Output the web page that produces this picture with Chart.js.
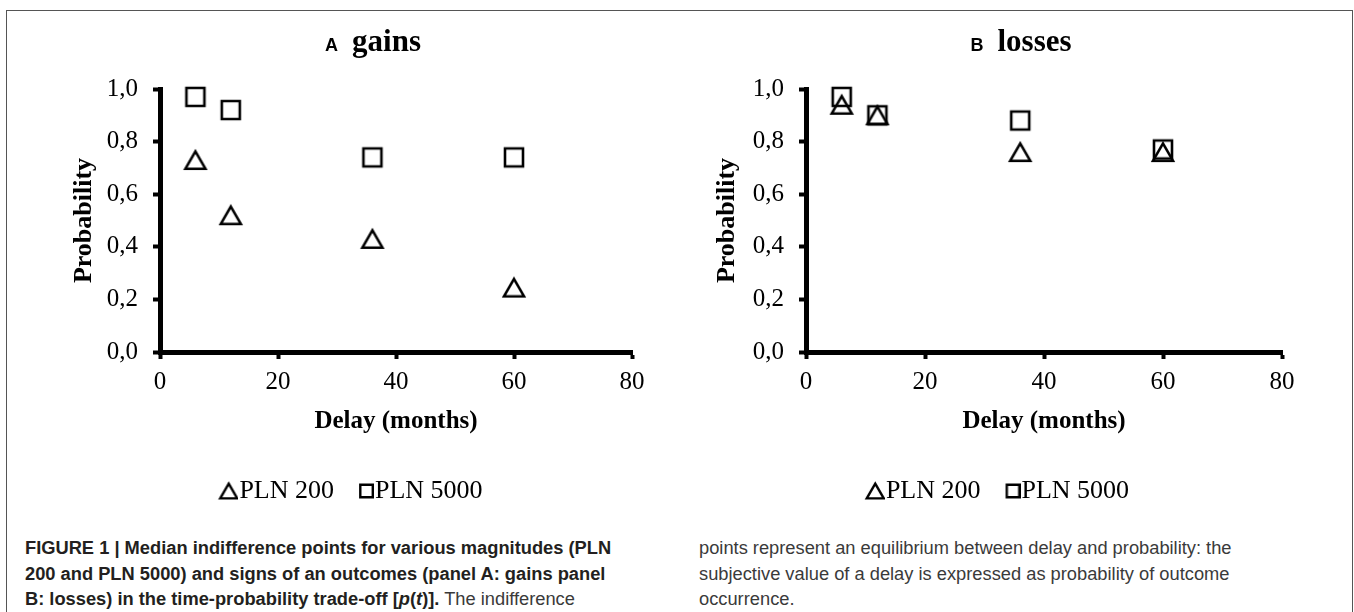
<!DOCTYPE html>
<html>
<head>
<meta charset="utf-8">
<script src="https://cdn.jsdelivr.net/npm/chart.js@4.4.1/dist/chart.umd.min.js"></script>
<style>
  html, body { margin: 0; padding: 0; background: #fff; }
  body { width: 1354px; height: 612px; position: relative; overflow: hidden; }
  .frame { position: absolute; left: 6px; top: 10px; width: 1345px; height: 700px; border: 1.5px solid #555; }
  .panel { position: absolute; top: 0; height: 520px; }
  .ptitle { position: absolute; top: 23px; text-align: center; white-space: nowrap; }
  .ptitle .lt { font-family: "Liberation Sans", Arial, sans-serif; font-weight: bold; font-size: 18px; margin-right: 14px; }
  .ptitle .wd { font-family: "Liberation Serif", "Times New Roman", serif; font-weight: bold; font-size: 31px; }
  .cap { position: absolute; top: 535px; font-family: "Liberation Sans", Arial, sans-serif; font-size: 18.3px; line-height: 25.5px; white-space: nowrap; color: #231f20; }
  .cap b { font-weight: bold; }
  .cap .n, .cap.n { color: #3a3a3a; }
</style>
</head>
<body>
<div class="frame"></div>

<div class="panel" style="left:0; width:680px;"><canvas id="chartA"></canvas></div>
<div class="panel" style="left:680px; width:674px;"><canvas id="chartB"></canvas></div>

<div class="ptitle" style="left:0; width:746px;"><span class="lt">A</span><span class="wd">gains</span></div>
<div class="ptitle" style="left:680px; width:682px;"><span class="lt">B</span><span class="wd">losses</span></div>

<div class="cap" style="left:25px;">
  <b>FIGURE 1 | Median indifference points for various magnitudes (PLN</b><br>
  <b>200 and PLN 5000) and signs of an outcomes (panel A: gains panel</b><br>
  <b>B: losses) in the time-probability trade-off [<i>p</i>(<i>t</i>)].</b> <span class="n">The indifference</span>
</div>
<div class="cap n" style="left:699px;">
  points represent an equilibrium between delay and probability: the<br>
  subjective value of a delay is expressed as probability of outcome<br>
  occurrence.
</div>

<script>
// delays in months
const delays = [6, 12, 36, 60];

// median indifference points (probability)
const gains200 = [0.73, 0.52, 0.43, 0.245];
const gains5000 = [0.97, 0.92, 0.74, 0.74];
const losses200 = [0.94, 0.90, 0.76, 0.76];
const losses5000 = [0.97, 0.90, 0.88, 0.77];

const seriesNames = ['PLN 200', 'PLN 5000'];
const xTicks = [0, 20, 40, 60, 80];
const yTicks = [0, 0.2, 0.4, 0.6, 0.8, 1.0];

const serif = '"Liberation Serif", "Times New Roman", serif';

// open markers drawn as small images so they sit centred on the point
function makeMarker(kind, w, h, size, lw, shiftRight) {
    const c = document.createElement('canvas');
    c.width = w; c.height = h;
    const g = c.getContext('2d');
    g.strokeStyle = '#000';
    g.lineWidth = lw;
    g.lineJoin = 'miter';
    const x0 = shiftRight ? w - size - lw / 2 : (w - size) / 2;
    const sh = kind === 'tri' ? size * 0.87 : size;
    const y0 = (h - sh) / 2;
    g.beginPath();
    if (kind === 'tri') {
        g.moveTo(x0 + size / 2, y0);
        g.lineTo(x0 + size, y0 + sh);
        g.lineTo(x0, y0 + sh);
        g.closePath();
    } else {
        g.rect(x0, y0, size, size);
    }
    g.stroke();
    return c;
}

const triPoint = makeMarker('tri', 26, 24, 20, 2.6, false);
const sqPoint = makeMarker('sq', 24, 24, 18, 2.6, false);
const triLegend = makeMarker('tri', 32, 20, 17, 2.4, true);
const sqLegend = makeMarker('sq', 32, 20, 12.5, 2.4, true);

function toPoints(xs, ys) {
    return xs.map((x, i) => ({ x: x, y: ys[i] }));
}

function makeChart(id, data200, data5000, pad) {
    const ctx = document.getElementById(id).getContext('2d');
    return new Chart(ctx, {
        type: 'scatter',
        data: {
            datasets: [{
                label: seriesNames[0],
                data: toPoints(delays, data200),
                pointStyle: triPoint,
                showLine: false,
                clip: false
            }, {
                label: seriesNames[1],
                data: toPoints(delays, data5000),
                pointStyle: sqPoint,
                showLine: false,
                clip: false
            }]
        },
        options: {
            responsive: false,
            animation: false,
            layout: { padding: { left: pad.left, right: pad.right, top: 89, bottom: 6 } },
            plugins: {
                tooltip: { enabled: false },
                title: { display: false },
                legend: {
                    position: 'bottom',
                    labels: {
                        usePointStyle: true,
                        boxWidth: 8,
                        boxHeight: 14,
                        padding: 20,
                        color: '#000',
                        font: { family: serif, size: 26 },
                        generateLabels: chart => {
                            const items = Chart.defaults.plugins.legend.labels.generateLabels(chart);
                            items[0].pointStyle = triLegend;
                            items[1].pointStyle = sqLegend;
                            return items;
                        }
                    }
                }
            },
            scales: {
                x: {
                    type: 'linear',
                    min: 0,
                    max: 80,
                    afterBuildTicks: s => { s.ticks = xTicks.map(v => ({ value: v })); },
                    afterFit: s => { s.height = 106; },
                    border: { display: true, color: '#000', width: 5 },
                    grid: { drawOnChartArea: false, drawTicks: true, tickLength: 7, tickWidth: 4, tickColor: '#000' },
                    ticks: { color: '#000', padding: 8, maxRotation: 0, font: { family: serif, size: 25 } },
                    title: {
                        display: true,
                        text: 'Delay (months)',
                        color: '#000',
                        padding: { top: 0, bottom: 21 },
                        font: { family: serif, size: 25, weight: 'bold' }
                    }
                },
                y: {
                    min: 0,
                    max: 1,
                    afterBuildTicks: s => { s.ticks = yTicks.map(v => ({ value: v })); },
                    afterFit: s => { s.width = pad.yWidth; },
                    border: { display: true, color: '#000', width: 5 },
                    grid: { drawOnChartArea: false, drawTicks: true, tickLength: 7, tickWidth: 4, tickColor: '#000' },
                    ticks: {
                        color: '#000',
                        padding: 15,
                        font: { family: serif, size: 25 },
                        callback: v => v.toFixed(1).replace('.', ',')
                    },
                    title: {
                        display: true,
                        text: 'Probability',
                        color: '#000',
                        padding: { top: 0, bottom: 0 },
                        font: { family: serif, size: 26, weight: 'bold' }
                    }
                }
            }
        }
    });
}

function sizeCanvas(id, w, h) {
    const c = document.getElementById(id);
    c.width = w; c.height = h;
    c.style.width = w + 'px'; c.style.height = h + 'px';
}

sizeCanvas('chartA', 680, 520);
sizeCanvas('chartB', 674, 520);

makeChart('chartA', gains200, gains5000, { left: 69, right: 48, yWidth: 91 });
makeChart('chartB', losses200, losses5000, { left: 32, right: 72, yWidth: 94 });
</script>
</body>
</html>
